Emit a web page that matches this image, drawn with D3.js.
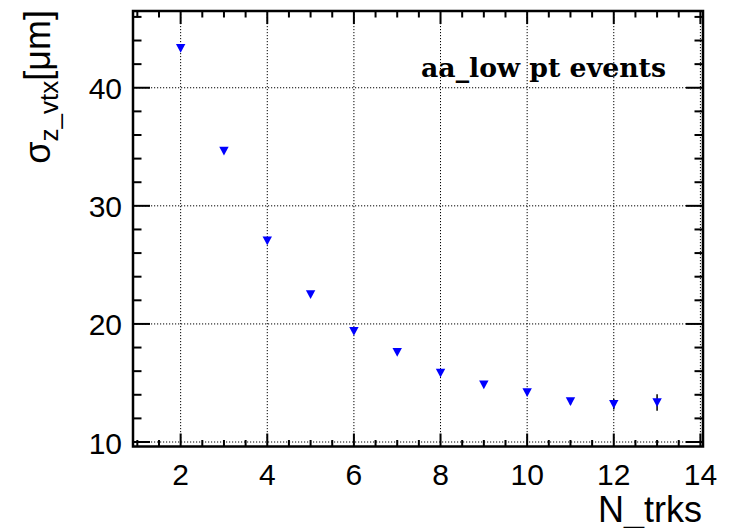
<!DOCTYPE html>
<html>
<head>
<meta charset="utf-8">
<script src="https://d3js.org/d3.v7.min.js"></script>
<style>
  body { margin: 0; background: #fff; }
  text { font-family: "Liberation Sans", Helvetica, Arial, sans-serif; }
</style>
</head>
<body>
<svg width="729" height="528"></svg>
<script>
// data
var nTrks = [2, 3, 4, 5, 6, 7, 8, 9, 10, 11, 12, 13];
var sigmaZ = [43.35, 34.65, 27.05, 22.5, 19.38, 17.6, 15.85, 14.85, 14.2, 13.43, 13.2, 13.35];
var sigmaErr = [0.15, 0.12, 0.1, 0.1, 0.1, 0.1, 0.12, 0.15, 0.2, 0.25, 0.45, 0.7];
var xTicks = [2, 4, 6, 8, 10, 12, 14];
var yTicks = [10, 20, 30, 40];

var svg = d3.select("svg"),
    width = +svg.attr("width"),
    height = +svg.attr("height");

svg.append("rect").attr("width", width).attr("height", height).attr("fill", "#fff");

var frame = {left: 133, right: 703, top: 11, bottom: 446.5};

var x = d3.scaleLinear().domain([0.9, 14.06]).range([frame.left, frame.right]);
var y = d3.scaleLinear().domain([9.62, 46.5]).range([frame.bottom, frame.top]);

var xMinor = d3.range(1, 14.01, 0.5).filter(function(v) { return v % 2 != 0; });
var yMinor = d3.range(10, 46.5, 2).filter(function(v) { return v % 10 != 0; });

// dotted grid
var grid = svg.append("g")
    .attr("stroke", "#000")
    .attr("stroke-width", 1)
    .attr("stroke-dasharray", "1.2,1.8");

grid.selectAll("line.gx")
  .data(xTicks)
  .enter().append("line")
    .attr("x1", function(d) { return x(d); })
    .attr("x2", function(d) { return x(d); })
    .attr("y1", frame.top)
    .attr("y2", frame.bottom);

grid.selectAll("line.gy")
  .data(yTicks)
  .enter().append("line")
    .attr("y1", function(d) { return y(d); })
    .attr("y2", function(d) { return y(d); })
    .attr("x1", frame.left)
    .attr("x2", frame.right);

// axes, ticks on all four sides pointing inward
var tickW = 2;
function drawX(g, vals, len) {
  g.selectAll(null).data(vals).enter().append("line")
    .attr("x1", function(d) { return x(d); }).attr("x2", function(d) { return x(d); })
    .attr("y1", frame.bottom).attr("y2", frame.bottom - len);
  g.selectAll(null).data(vals).enter().append("line")
    .attr("x1", function(d) { return x(d); }).attr("x2", function(d) { return x(d); })
    .attr("y1", frame.top).attr("y2", frame.top + len);
}
function drawY(g, vals, len) {
  g.selectAll(null).data(vals).enter().append("line")
    .attr("y1", function(d) { return y(d); }).attr("y2", function(d) { return y(d); })
    .attr("x1", frame.left).attr("x2", frame.left + len);
  g.selectAll(null).data(vals).enter().append("line")
    .attr("y1", function(d) { return y(d); }).attr("y2", function(d) { return y(d); })
    .attr("x1", frame.right).attr("x2", frame.right - len);
}
var ticks = svg.append("g").attr("stroke", "#000").attr("stroke-width", tickW);
drawX(ticks, xTicks, 13);
drawX(ticks, xMinor, 6.5);
drawY(ticks, yTicks, 17);
drawY(ticks, yMinor, 8.5);

svg.append("rect")
    .attr("x", frame.left)
    .attr("y", frame.top)
    .attr("width", frame.right - frame.left)
    .attr("height", frame.bottom - frame.top)
    .attr("fill", "none")
    .attr("stroke", "#000")
    .attr("stroke-width", 2.5);

// tick labels
svg.append("g").selectAll("text")
  .data(xTicks)
  .enter().append("text")
    .attr("x", function(d) { return x(d); })
    .attr("y", frame.bottom + 38)
    .attr("text-anchor", "middle")
    .attr("font-size", 30)
    .text(function(d) { return d; });

svg.append("g").selectAll("text")
  .data(yTicks)
  .enter().append("text")
    .attr("x", frame.left - 11)
    .attr("y", function(d) { return y(d) + 11.5; })
    .attr("text-anchor", "end")
    .attr("font-size", 30)
    .text(function(d) { return d; });

// axis titles
svg.append("text")
    .attr("x", 702)
    .attr("y", 521.5)
    .attr("text-anchor", "end")
    .attr("font-size", 36)
    .text("N_trks");

var yt = svg.append("text")
    .attr("transform", "translate(50,10) rotate(-90)")
    .attr("text-anchor", "end")
    .attr("font-size", 36);
yt.append("tspan").text("σ");
yt.append("tspan").attr("dy", 8).attr("font-size", 26).text("z_vtx");
yt.append("tspan").attr("dy", -8).text("[μm]");

// label
svg.append("text")
    .attr("x", 421)
    .attr("y", 77.3)
    .style("font-family", "'DejaVu Serif', serif")
    .style("font-weight", "bold")
    .attr("font-size", 26)
    .attr("textLength", 245)
    .attr("lengthAdjust", "spacingAndGlyphs")
    .text("aa_low pt events");

// error bars and markers
var pts = nTrks.map(function(n, i) { return {n: n, s: sigmaZ[i], e: sigmaErr[i]}; });

svg.append("g").selectAll("line")
  .data(pts)
  .enter().append("line")
    .attr("x1", function(d) { return x(d.n); })
    .attr("x2", function(d) { return x(d.n); })
    .attr("y1", function(d) { return y(d.s - d.e); })
    .attr("y2", function(d) { return y(d.s + d.e); })
    .attr("stroke", "#000")
    .attr("stroke-width", 1.5);

var tri = "M-4.7,-4.2 L4.7,-4.2 L0,4.5 Z";
svg.append("g").selectAll("path")
  .data(pts)
  .enter().append("path")
    .attr("transform", function(d) { return "translate(" + x(d.n) + "," + y(d.s) + ")"; })
    .attr("d", tri)
    .attr("fill", "#0000ff");
</script>
</body>
</html>
